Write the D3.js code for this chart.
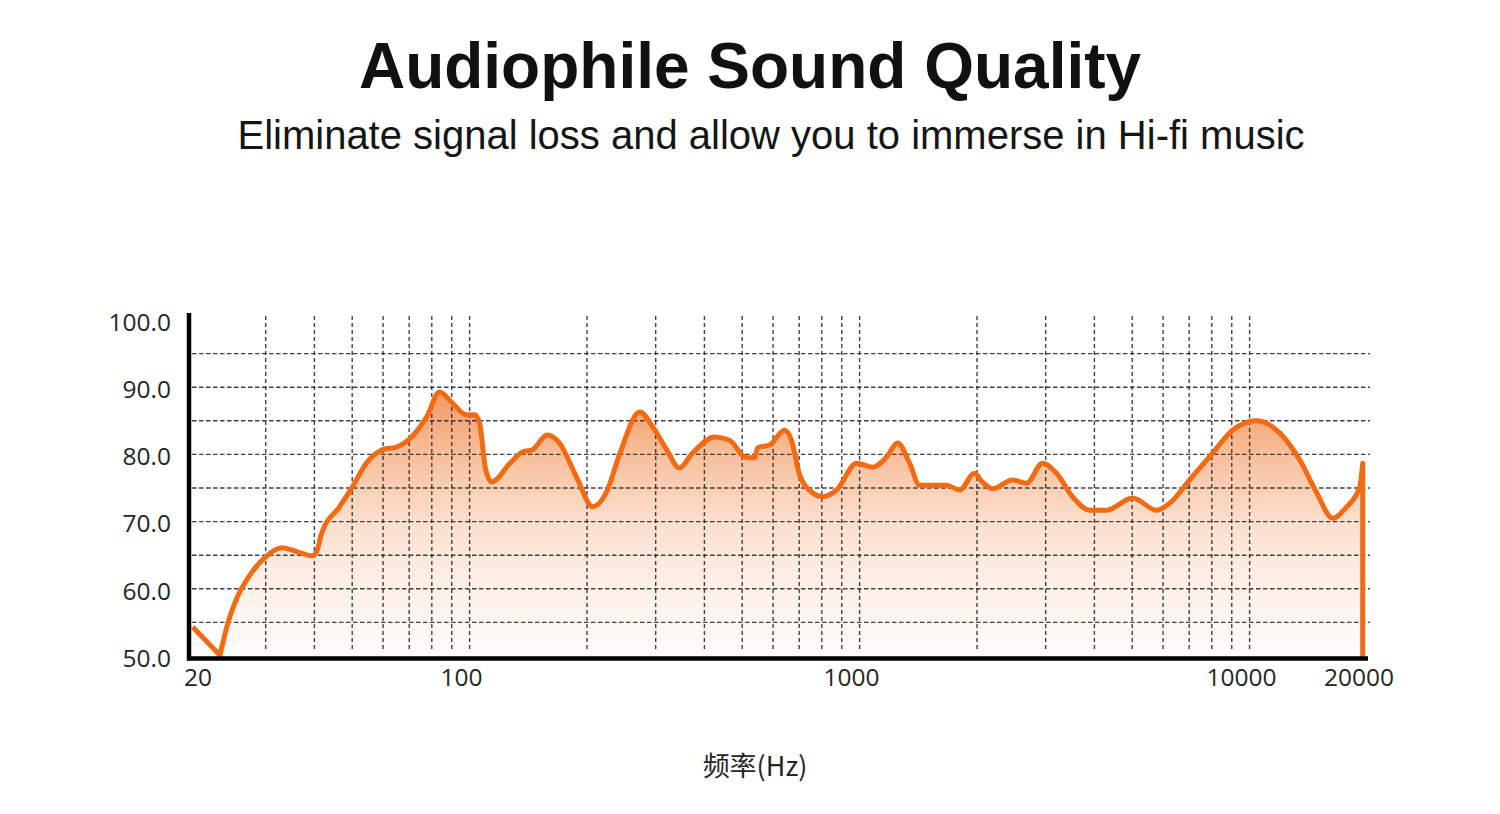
<!DOCTYPE html>
<html>
<head>
<meta charset="utf-8">
<script src="https://cdn.jsdelivr.net/npm/d3@7/dist/d3.min.js"></script>
<style>
  html, body { margin: 0; padding: 0; background: #ffffff; }
  svg { display: block; }
</style>
</head>
<body>
<svg id="chart" width="1500" height="814"></svg>
<script>
// ---------- data ----------
const titleText = "Audiophile Sound Quality";
const subtitleText = "Eliminate signal loss and allow you to immerse in Hi-fi music";
const xAxisTitle = "频率(Hz)";

const freqs = [19.5, 22.9, 24.0, 25.4, 27.6, 29.8, 33.0, 36.2, 39.6, 40.7, 41.7, 46.4, 50, 54.4, 59.9, 65, 71, 77.6, 83.8, 90.5, 98, 103, 106, 110, 114,
  127, 137, 145, 158, 170, 188, 207, 224, 243, 273, 295, 320, 345, 373, 425, 464, 513, 538, 548, 588, 642, 669, 700, 757, 804, 873, 983,
  1080, 1172, 1251, 1343, 1425, 1671, 1805, 1972, 2063, 2193, 2466, 2679, 2945, 3197, 3516, 3890, 4298, 5012, 5777, 6257, 7017, 8040,
  9040, 10420, 11940, 13440, 14860, 16330, 17740, 19150, 19500];
const levels = [54.3, 50.1, 54.9, 58.8, 62.4, 64.6, 66.1, 65.5, 64.9, 65.8, 68.2, 72.2, 75.1, 78.7, 80.7, 81.1, 82.6, 85.6, 89.3, 87.6, 85.9, 85.9, 84.7, 77.7, 75.9,
  78.7, 80.4, 80.7, 82.9, 81.7, 76.6, 72.2, 74.3, 80.2, 86.3, 84.1, 80.7, 78.0, 80.2, 82.6, 82.1, 79.5, 79.5, 81.0, 81.4, 83.6, 82.1, 77.2, 74.3, 73.7, 74.7, 78.7,
  78.1, 79.6, 81.7, 78.7, 75.4, 75.4, 74.7, 77.2, 75.9, 74.9, 76.2, 75.7, 78.7, 77.2, 73.7, 71.7, 71.7, 73.5, 71.7, 72.8, 76.2, 80.2,
  83.6, 85.0, 83.2, 79.2, 74.3, 70.5, 72.2, 75.1, 78.7];

const xTickValues = [20, 100, 1000, 10000, 20000];
const xTickLabels = ["20", "100", "1000", "10000", "20000"];
const xGridValues = [30, 40, 50, 60, 70, 80, 90, 100, 200, 300, 400, 500, 600, 700, 800, 900, 1000,
  2000, 3000, 4000, 5000, 6000, 7000, 8000, 9000, 10000];
const yTickValues = [50, 60, 70, 80, 90, 100];
const yGridValues = [55, 60, 65, 70, 75, 80, 85, 90, 95];

// ---------- scales ----------
const svg = d3.select("#chart");
const x = d3.scaleLog().domain([20, 20000]).range([197, 1367]);
const y = d3.scaleLinear().domain([50, 100]).range([656, 320]);

const data = freqs.map((f, i) => ({ f: f, v: levels[i] }));
const head = data.slice(0, 2);   // straight drop to the sharp minimum
const tail = data.slice(1);      // smooth curve from the minimum on
const axisLeftX = x(20) - 8;
const baseY = y(50) + 2.5;

// ---------- titles ----------
svg.append("text")
  .attr("x", 750).attr("y", 88)
  .attr("text-anchor", "middle")
  .attr("font-family", "'Liberation Sans', Arial, sans-serif")
  .attr("font-weight", "bold")
  .attr("font-size", 64)
  .attr("fill", "#111")
  .text(titleText);

svg.append("text")
  .attr("x", 771).attr("y", 149)
  .attr("text-anchor", "middle")
  .attr("font-family", "'Liberation Sans', Arial, sans-serif")
  .attr("font-size", 40)
  .attr("fill", "#151515")
  .text(subtitleText);

// ---------- gradient ----------
const defs = svg.append("defs");
const grad = defs.append("linearGradient")
  .attr("id", "fillGrad")
  .attr("gradientUnits", "userSpaceOnUse")
  .attr("x1", 0).attr("x2", 0)
  .attr("y1", y(90)).attr("y2", y(50));
grad.append("stop").attr("offset", 0).attr("stop-color", "#f2955e");
grad.append("stop").attr("offset", 0.25).attr("stop-color", "#f7bf9b");
grad.append("stop").attr("offset", 0.5).attr("stop-color", "#fbdfcd");
grad.append("stop").attr("offset", 0.72).attr("stop-color", "#fdefe6");
grad.append("stop").attr("offset", 1).attr("stop-color", "#fffcfa");

// ---------- area ----------
const areaSmooth = d3.area()
  .x(d => x(d.f)).y0(y(50)).y1(d => y(d.v))
  .curve(d3.curveMonotoneX);
const areaStraight = d3.area()
  .x(d => x(d.f)).y0(y(50)).y1(d => y(d.v));

svg.append("path").datum(head).attr("d", areaStraight).attr("fill", "url(#fillGrad)");
svg.append("path").datum(tail).attr("d", areaSmooth).attr("fill", "url(#fillGrad)");

// ---------- grid ----------
const grid = svg.append("g").attr("stroke", "#222").attr("stroke-width", 1.4);
grid.selectAll("line.h")
  .data(yGridValues)
  .join("line")
  .attr("class", "h")
  .attr("x1", axisLeftX + 3).attr("x2", x(20000) + 3)
  .attr("y1", d => y(d)).attr("y2", d => y(d))
  .attr("stroke-dasharray", "4.5,2.5")
  .attr("opacity", 0.85);

grid.selectAll("line.v")
  .data(xGridValues)
  .join("line")
  .attr("class", "v")
  .attr("x1", d => x(d)).attr("x2", d => x(d))
  .attr("y1", y(100) - 4).attr("y2", y(50) - 4)
  .attr("stroke-dasharray", "4,3")
  .attr("opacity", 0.85);

// ---------- curve ----------
const lineSmooth = d3.line()
  .x(d => x(d.f)).y(d => y(d.v))
  .curve(d3.curveMonotoneX);
const lineStraight = d3.line()
  .x(d => x(d.f)).y(d => y(d.v));

const last = data[data.length - 1];
const pathD = lineStraight(head) + lineSmooth(tail).replace(/^M[^CLQ]*/, "") +
  "L" + x(last.f) + "," + baseY;
svg.append("path")
  .attr("d", pathD)
  .attr("fill", "none")
  .attr("stroke", "#f26a12")
  .attr("stroke-width", 5)
  .attr("stroke-linejoin", "round");

// ---------- axes lines ----------
svg.append("line")
  .attr("x1", axisLeftX).attr("x2", axisLeftX)
  .attr("y1", y(100) - 7).attr("y2", baseY + 2)
  .attr("stroke", "#000").attr("stroke-width", 4.5);

svg.append("line")
  .attr("x1", axisLeftX - 2).attr("x2", x(20000) + 1)
  .attr("y1", baseY).attr("y2", baseY)
  .attr("stroke", "#000").attr("stroke-width", 4.5);

// ---------- tick labels ----------
svg.append("g").selectAll("text")
  .data(yTickValues)
  .join("text")
  .attr("x", 171)
  .attr("y", d => y(d) + 2)
  .attr("dy", "0.36em")
  .attr("text-anchor", "end")
  .attr("font-family", "'Open Sans', 'Noto Sans', sans-serif")
  .attr("font-size", 24.5)
  .attr("fill", "#262626")
  .text(d => d3.format(".1f")(d));

svg.append("g").selectAll("text")
  .data(xTickValues)
  .join("text")
  .attr("x", (d, i) => i === 0 ? x(d) + 1 : x(d) - 8)
  .attr("y", 686)
  .attr("text-anchor", "middle")
  .attr("font-family", "'Open Sans', 'Noto Sans', sans-serif")
  .attr("font-size", 24.5)
  .attr("fill", "#262626")
  .text((d, i) => xTickLabels[i]);

// ---------- x axis title ----------
svg.append("text")
  .attr("x", 755).attr("y", 776)
  .attr("text-anchor", "middle")
  .attr("font-family", "'Noto Sans CJK SC', 'Noto Sans', sans-serif")
  .attr("font-size", 27)
  .attr("fill", "#262626")
  .text(xAxisTitle);
</script>
</body>
</html>
